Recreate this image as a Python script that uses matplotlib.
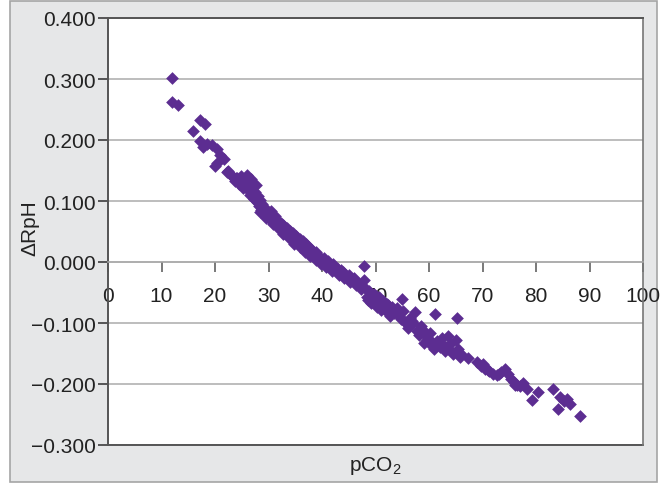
import matplotlib.pyplot as plt
from matplotlib.patches import Rectangle
from matplotlib.ticker import FuncFormatter

plt.rcParams['font.family'] = ['Liberation Sans', 'DejaVu Sans']
plt.rcParams['mathtext.fontset'] = 'custom'
plt.rcParams['mathtext.rm'] = 'Liberation Sans'
plt.rcParams['mathtext.default'] = 'regular'

# data
pco2 = [
    12.0, 12.0, 13.1, 15.9, 17.2, 18.1, 17.2, 17.8, 18.5, 19.4,
    20.3, 20.3, 21.6, 20.0, 21.0, 22.2, 22.8, 23.3, 23.8, 24.2,
    24.5, 24.9, 25.3, 25.5, 25.9, 26.1, 26.3, 26.6, 26.8, 27.0,
    27.2, 27.4, 27.6, 27.8, 28.0, 28.2, 28.4, 28.6, 28.8, 29.0,
    29.2, 29.5, 29.7, 30.0, 30.2, 30.4, 30.7, 31.0, 31.2, 31.5,
    31.8, 32.0, 32.3, 32.6, 32.8, 33.1, 33.4, 33.7, 34.0, 34.3,
    34.6, 34.9, 35.2, 35.5, 35.8, 36.1, 36.4, 36.7, 37.0, 37.3,
    37.6, 37.9, 38.2, 38.5, 38.8, 39.1, 39.5, 39.9, 40.3, 40.7,
    41.1, 41.5, 42.0, 42.5, 43.0, 43.5, 44.0, 44.5, 45.0, 45.5,
    46.0, 46.6, 47.1, 47.8, 47.8, 48.2, 48.5, 49.0, 49.5, 50.0,
    50.4, 50.8, 51.2, 51.6, 52.0, 52.4, 52.7, 54.0, 54.4, 55.0,
    55.2, 55.6, 56.0, 56.4, 57.4, 57.0, 58.5, 58.9, 59.3, 59.7,
    60.1, 60.5, 61.1, 61.5, 62.0, 62.5, 63.0, 63.5, 64.0, 64.5,
    65.0, 65.3, 65.5, 65.8, 67.3, 69.0, 69.8, 70.5, 71.3, 72.0,
    72.8, 73.5, 74.2, 74.8, 75.3, 75.8, 76.5, 77.5, 78.3, 79.2,
    80.4, 83.2, 84.1, 84.5, 85.2, 85.8, 86.4, 88.2,
    25.0, 26.0, 27.0, 28.0, 29.0, 30.0, 31.0, 32.0, 33.0, 34.0,
    35.0, 36.0, 37.0, 38.0, 39.0, 40.0, 41.0, 42.0, 43.0, 44.0,
    45.0, 46.0, 24.0, 23.0, 22.5, 30.5, 33.5, 36.5, 42.8, 46.8,
    28.5, 29.5, 30.8, 31.8, 32.8, 33.8, 34.8, 35.8, 36.8, 37.8,
    38.8, 39.8, 40.8, 41.8, 43.2, 44.2, 45.3, 46.3, 47.3, 48.8,
    49.8, 50.6, 51.4, 52.2, 53.0, 48.6, 49.2, 50.2, 51.0, 53.5,
    54.8, 55.8, 56.8, 57.8, 58.2, 59.0, 60.0, 61.0, 62.2, 63.2,
    64.2, 66.0, 70.0, 71.0, 73.0, 76.0, 77.0,
]
drph = [
    0.302, 0.262, 0.257, 0.215, 0.233, 0.227, 0.199, 0.189, 0.193, 0.192,
    0.186, 0.163, 0.169, 0.158, 0.175, 0.148, 0.144, 0.140, 0.133, 0.138,
    0.128, 0.141, 0.122, 0.133, 0.142, 0.118, 0.128, 0.110, 0.136, 0.121,
    0.104, 0.115, 0.127, 0.098, 0.108, 0.092, 0.101, 0.086, 0.095, 0.080,
    0.089, 0.076, 0.085, 0.079, 0.070, 0.083, 0.072, 0.064, 0.075, 0.060,
    0.068, 0.057, 0.064, 0.052, 0.060, 0.048, 0.056, 0.044, 0.051, 0.040,
    0.047, 0.036, 0.043, 0.032, 0.038, 0.028, 0.034, 0.023, 0.030, 0.019,
    0.025, 0.015, 0.020, 0.011, 0.016, 0.006, 0.010, 0.003, 0.006, -0.002,
    0.001, -0.006, -0.010, -0.008, -0.015, -0.013, -0.020, -0.024, -0.022, -0.029,
    -0.027, -0.033, -0.039, -0.006, -0.030, -0.044, -0.057, -0.050, -0.062, -0.055,
    -0.068, -0.060, -0.072, -0.065, -0.080, -0.070, -0.088, -0.075, -0.088, -0.061,
    -0.080, -0.098, -0.108, -0.092, -0.082, -0.100, -0.105, -0.112, -0.120, -0.128,
    -0.117, -0.138, -0.085, -0.130, -0.140, -0.125, -0.146, -0.121, -0.134, -0.150,
    -0.128, -0.092, -0.143, -0.155, -0.158, -0.164, -0.170, -0.175, -0.179, -0.183,
    -0.186, -0.180, -0.175, -0.184, -0.192, -0.197, -0.202, -0.198, -0.208, -0.227,
    -0.213, -0.208, -0.241, -0.222, -0.228, -0.225, -0.233, -0.253,
    0.130, 0.124, 0.112, 0.100, 0.090, 0.074, 0.066, 0.061, 0.050, 0.045,
    0.040, 0.030, 0.027, 0.017, 0.010, 0.000, -0.004, -0.004, -0.012, -0.016,
    -0.026, -0.031, 0.137, 0.142, 0.150, 0.078, 0.052, 0.031, -0.017, -0.036,
    0.082, 0.072, 0.062, 0.055, 0.046, 0.039, 0.030, 0.024, 0.017, 0.010,
    0.004, -0.003, -0.009, -0.015, -0.021, -0.027, -0.033, -0.038, -0.044, -0.047,
    -0.053, -0.058, -0.064, -0.069, -0.074, -0.062, -0.067, -0.073, -0.078, -0.084,
    -0.094, -0.102, -0.096, -0.113, -0.120, -0.132, -0.126, -0.142, -0.133, -0.140,
    -0.146, -0.150, -0.168, -0.177, -0.184, -0.201, -0.204,
]

xticks = [0, 10, 20, 30, 40, 50, 60, 70, 80, 90, 100]
yticks = [-0.3, -0.2, -0.1, 0.0, 0.1, 0.2, 0.3, 0.4]

fig = plt.figure(figsize=(6.68, 4.85), dpi=100)
# grey panel behind the chart
panel = Rectangle((10 / 668, 2 / 485), 647 / 668, 481 / 485,
                  transform=fig.transFigure, facecolor='#e6e7e8',
                  edgecolor='#a5a5a5', linewidth=1.2, zorder=-10)
fig.add_artist(panel)

ax = fig.add_axes([108 / 668, 39 / 485, 535 / 668, 427 / 485])
ax.set_zorder(1)
ax.set_facecolor('white')
ax.set_xlim(0, 100)
ax.set_ylim(-0.3, 0.4)

for v in yticks:
    ax.axhline(v, color='#ababab', linewidth=1.1, zorder=1)
# frame bottom line
ax.axhline(-0.3, color='#555555', linewidth=1.4, zorder=2, clip_on=False)

ax.scatter(pco2, drph, marker='D', s=42, color='#5c2d91', linewidths=0, zorder=3)

ax.spines['bottom'].set_position(('data', 0))
ax.spines['bottom'].set_color('#ababab')
ax.spines['bottom'].set_linewidth(1.1)
for s in ['left', 'top']:
    ax.spines[s].set_color('#555555')
    ax.spines[s].set_linewidth(1.4)
ax.spines['right'].set_color('#777777')
ax.spines['right'].set_linewidth(1.2)

ax.set_xticks(xticks)
ax.set_yticks(yticks)
ax.yaxis.set_major_formatter(FuncFormatter(lambda v, p: ('%.3f' % v).replace('-', '\u2212')))
ax.tick_params(axis='x', direction='out', length=7, width=1.1, color='#555555',
               labelsize=15, pad=10, labelcolor='#222222')
ax.tick_params(axis='y', direction='out', length=7, width=1.4, color='#555555',
               labelsize=15, pad=2, labelcolor='#222222')

ax.set_xlabel('pCO$_2$', fontsize=15, color='#222222')
ax.xaxis.set_label_coords(0.5, -0.048)
ax.xaxis.label.set_verticalalignment('center')
ax.set_ylabel('\u0394RpH', fontsize=15, color='#222222')
ax.yaxis.set_label_coords(-0.146, 0.51)
ax.yaxis.label.set_verticalalignment('center')

fig.savefig('out.png', dpi=100)
